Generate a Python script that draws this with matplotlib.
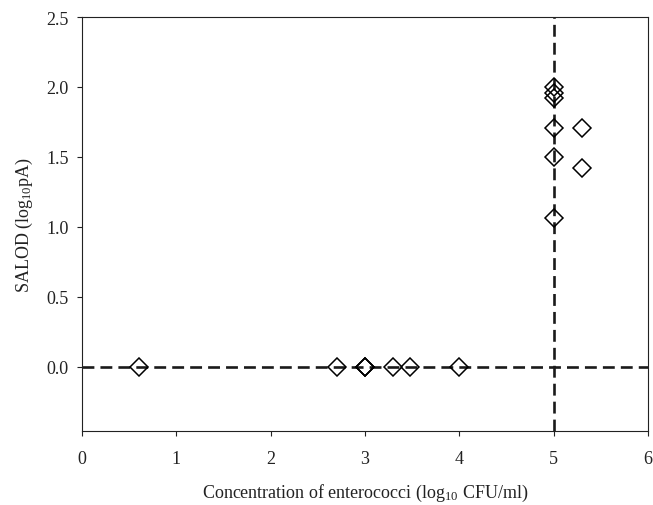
import matplotlib
matplotlib.use("Agg")
import matplotlib.pyplot as plt

plt.rcParams['font.family'] = ['Liberation Serif', 'DejaVu Serif']
plt.rcParams['mathtext.fontset'] = 'custom'
plt.rcParams['mathtext.rm'] = 'Liberation Serif'
plt.rcParams['mathtext.it'] = 'Liberation Serif:italic'
plt.rcParams['mathtext.default'] = 'regular'

conc = [0.6, 2.7, 3.0, 3.0, 3.0, 3.3, 3.48, 4.0,
        5.0, 5.0, 5.0, 5.0, 5.0, 5.0, 5.3, 5.3]
salod = [0.0, 0.0, 0.0, 0.0, 0.0, 0.0, 0.0, 0.0,
         2.0, 1.96, 1.92, 1.71, 1.5, 1.06, 1.71, 1.42]
cutoff_x = 5.0
cutoff_y = 0.0
xticks = [0, 1, 2, 3, 4, 5, 6]
yticks = [0.0, 0.5, 1.0, 1.5, 2.0, 2.5]

fig = plt.figure(figsize=(6.53, 5.06), dpi=100)
ax = fig.add_axes([0.1256, 0.1462, 0.8667, 0.8182])

ax.axhline(cutoff_y, color='#1a1a1a', lw=1.9, ls=(0, (4.5, 2.3)), zorder=1)
ax.axvline(cutoff_x, color='#1a1a1a', lw=1.9, ls=(0, (4.5, 2.3)), zorder=1)
ax.plot(conc, salod, ls='none', marker='D', ms=9.5, mfc='none',
        mec='black', mew=1.1, zorder=2)

ax.set_xlim(0, 6)
ax.set_ylim(-0.46, 2.5)
ax.set_xticks(xticks)
ax.set_yticks(yticks)
ax.set_yticklabels([f"{v:.1f}" for v in yticks])
ax.tick_params(direction='out', length=3.5, width=0.8, labelsize=13, colors='#222222')
ax.tick_params(axis='x', pad=10)
ax.tick_params(axis='y', pad=6)
for s in ax.spines.values():
    s.set_linewidth(0.8)
    s.set_color('#222222')

ax.set_xlabel("Concentration of enterococci (log$_{10}$ CFU/ml)", fontsize=13, labelpad=11, color='#222222')
ax.set_ylabel("SALOD (log$_{10}$pA)", fontsize=13, labelpad=8, color='#222222')

fig.savefig("out.png", dpi=100)
